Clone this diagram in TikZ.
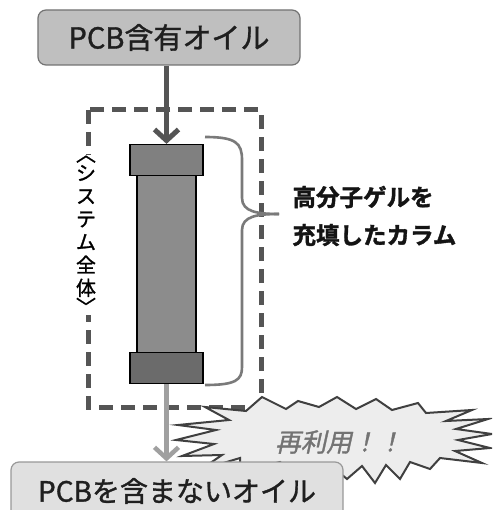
\documentclass[tikz,border=0pt]{standalone}
\usepackage{fontspec}
\setmainfont{Noto Sans CJK JP}
\newfontfamily\jpmed[FakeBold=1.2]{Noto Sans CJK JP}
\newfontfamily\jpheavy[FakeBold=1.6]{Noto Sans CJK JP Bold}
\newfontfamily\jpslant[FakeSlant=0.22,FakeBold=1.3]{Noto Sans CJK JP}
\usetikzlibrary{arrows.meta}
\definecolor{frameGray}{HTML}{555555}
\definecolor{braceGray}{HTML}{7A7A7A}
\definecolor{lightArrow}{HTML}{A0A0A0}
\tikzset{
  oilbox/.style={draw=#1, line width=1.2pt, rounded corners=8pt, inner sep=0pt, text=black!88},
  capbox/.style={draw=black, line width=1.2pt, minimum width=73pt, minimum height=31pt, inner sep=0pt},
  flow/.style={line width=5pt, -{Straight Barb[length=11pt,width=24pt]}},
  sysframe/.style={draw=frameGray, line width=5pt, dash pattern=on 14pt off 8pt},
  brace/.style={draw=braceGray, line width=2.6pt},
  burst/.style={draw=black!75, line width=2pt, fill=black!7, line join=miter}
}
\begin{document}
\begin{tikzpicture}[x=1pt,y=-1pt]
\useasboundingbox (0,0) rectangle (492,510);
\clip (0,0) rectangle (492,510);
\fill[white] (0,0) rectangle (492,510);

% whole-system frame
\draw[sysframe] (88,110) rectangle (261,407);

% vertical label on the frame's left side
\node[fill=white, inner sep=1pt, align=center, font=\fontsize{20}{23}\selectfont\jpmed] (sys) at (86,235)
  {︿\\[-4pt]シ\\ス\\テ\\ム\\全\\体\\[-4pt]﹀};

% the column: end caps and packed body
\node[draw=black, line width=1.2pt, fill=black!45, minimum width=59pt, minimum height=178pt, inner sep=0pt] (body) at (166.5,264) {};
\node[capbox, fill=black!50] (captop) at (166.5,160) {};
\node[capbox, fill=black!58] (capbot) at (166.5,368) {};

% curly brace beside the column
\coordinate (tip) at (279,214);
\draw[brace] (205,137) .. controls (236,137) and (242,143) .. (242,160) -- (242,198)
  .. controls (242,212) and (258,214) .. (tip);
\draw[brace] (tip) .. controls (258,214) and (242,216) .. (242,230) -- (242,367)
  .. controls (242,380) and (236,385) .. (205,385);

% label for the column
\node[anchor=west, align=left, font=\fontsize{23.5}{38}\selectfont\jpheavy, text=black!92] (gel) at (289,216)
  {高分子ゲルを\\充填したカラム};

% input oil
\node[oilbox=black!55, fill=black!25, minimum width=262pt, minimum height=55pt,
      font=\fontsize{29}{31}\selectfont\jpmed] (src) at (169,37.5) {PCB含有オイル};
\draw[flow, draw=frameGray] (src.south -| captop) -- (captop.north);

% reuse callout
\draw[burst] (178,425) -- (216,430) -- (176,440) -- (214,444) -- (182,456) -- (222,455)
  -- (200,470) -- (240,458) -- (240,472) -- (280,462) -- (300,478) -- (330,465)
  -- (347,479) -- (362,466) -- (375,483) -- (386,465) -- (400,479) -- (410,462)
  -- (430,469) -- (440,458) -- (482,463) -- (455,451) -- (490,448) -- (458,440)
  -- (492,434) -- (456,429) -- (488,419) -- (446,421) -- (472,410) -- (426,413)
  -- (418,403) -- (392,410) -- (376,399) -- (356,409) -- (337,397) -- (319,407)
  -- (298,401) -- (286,409) -- (262,397) -- (246,411) -- (205,407) -- (229,420) -- cycle;
\node[text=black!55, font=\fontsize{25.5}{27}\selectfont\jpslant] (reuse) at (339,442) {再利用！！};

% output oil
\node[oilbox=black!40, fill=black!12, minimum width=332pt, minimum height=70pt] (dst) at (177,497) {};
\node[font=\fontsize{28}{30}\selectfont\jpmed, text=black!88] (dsttext) at (177,491) {PCBを含まないオイル};
\draw[flow, draw=lightArrow, line width=4.5pt] (capbot.south) -- (capbot.south |- dst.north);
\end{tikzpicture}
\end{document}
